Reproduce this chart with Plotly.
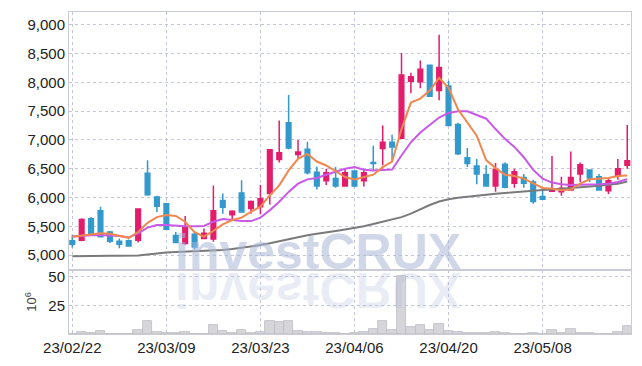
import plotly.graph_objects as go

dates = ["23/02/22","23/02/23","23/02/24","23/02/27","23/02/28",
         "23/03/02","23/03/03","23/03/06","23/03/07","23/03/08","23/03/09","23/03/10",
         "23/03/13","23/03/14","23/03/15","23/03/16","23/03/17","23/03/20","23/03/21",
         "23/03/22","23/03/23","23/03/24","23/03/27","23/03/28","23/03/29","23/03/30",
         "23/03/31","23/04/03","23/04/04","23/04/05","23/04/06","23/04/07","23/04/10",
         "23/04/11","23/04/12","23/04/13","23/04/14","23/04/17","23/04/18","23/04/19",
         "23/04/20","23/04/21","23/04/24","23/04/25","23/04/26","23/04/27","23/04/28",
         "23/05/02","23/05/03","23/05/04","23/05/08","23/05/09","23/05/10","23/05/11",
         "23/05/12","23/05/15","23/05/16","23/05/17","23/05/18","23/05/19"]

open_ = [5250,5260,5630,5770,5400,5240,5250,5260,6420,6010,5890,5340,5200,5360,5290,
         5280,5950,5700,6080,5810,5840,6070,6660,7300,6750,6840,6440,6290,6330,6200,
         6460,6290,6610,6850,6960,7030,8020,8010,8300,7860,7940,7270,6690,6550,6400,
         6200,6580,6250,6350,6270,6020,6110,6100,6130,6410,6480,6360,6120,6380,6560]
high = [5350,5640,5660,5840,5420,5290,5270,5810,6650,6030,5910,5400,5680,5410,5460,
        6210,6070,5780,6300,5950,6220,6840,7340,7780,7000,6970,6540,6500,6530,6490,
        6470,6500,6900,7250,7090,8510,8170,8380,8310,8830,8030,7300,6860,6670,6560,
        6600,6610,6500,6410,6310,6180,6720,6360,6800,6610,6490,6410,6330,6670,7260]
low = [5130,5240,5370,5310,5210,5120,5150,5220,6030,5750,5440,5210,5180,5100,5280,
       5230,5720,5610,5740,5720,5710,5880,6610,6840,6680,6400,6140,6220,6170,6190,
       6180,6190,6470,6560,6640,7020,7810,7900,7750,7690,7240,6740,6530,6230,6190,
       6100,6160,6170,6170,5890,5960,6100,6030,6120,6270,6270,6120,6060,6310,6500]
close = [5190,5620,5380,5320,5240,5190,5160,5800,6050,5850,5450,5220,5490,5140,5380,
         5770,5830,5760,5750,5930,5980,6830,6780,6860,6790,6430,6200,6430,6200,6430,
         6200,6430,6590,6960,6880,8130,8100,8230,7760,8260,7250,6760,6590,6410,6200,
         6490,6180,6450,6250,5930,5970,6150,6160,6350,6570,6340,6130,6290,6500,6640]

ma_short = [5320,5340,5360,5380,5370,5340,5300,5400,5560,5660,5695,5680,5580,5400,5320,
            5420,5534,5609,5650,5753,5840,6040,6212,6471,6672,6759,6626,6557,6454,6356,
            6316,6356,6397,6529,6626,7190,7650,7720,7860,8080,7908,7534,7305,7075,6650,
            6511,6397,6374,6328,6241,6167,6155,6126,6140,6241,6316,6328,6340,6374,6385]
ma_mid = [5322,5340,5345,5350,5345,5330,5305,5379,5477,5523,5523,5506,5500,5500,5506,
          5580,5626,5609,5591,5591,5650,5781,5926,6098,6241,6316,6339,6397,6454,6500,
          6529,6483,6471,6483,6488,6730,6960,7130,7260,7390,7470,7500,7500,7440,7370,
          7190,7020,6880,6700,6480,6330,6260,6230,6220,6220,6220,6230,6240,6270,6320]
ma_long = [4980,4985,4988,4990,4990,4990,4992,4995,5010,5030,5045,5055,5060,5065,5068,
           5075,5090,5105,5125,5150,5175,5205,5240,5280,5320,5345,5370,5390,5420,5445,
           5470,5500,5540,5580,5620,5660,5720,5800,5870,5930,5970,5995,6015,6035,6050,
           6065,6080,6095,6110,6120,6130,6138,6148,6160,6175,6190,6205,6220,6240,6280]

volume = [0.3,1.5,0.6,2.6,0.3,0.2,0.2,3.4,11.2,1.5,0.6,0.6,1.5,0.3,0.3,
          7.5,2.6,0.6,3.2,0.6,1.5,11.8,10.1,11.8,2.6,1.5,1.5,0.8,0.6,0.3,
          0.6,1.5,4.6,11.2,3.4,51.1,6.0,7.8,3.7,8.6,2.8,1.5,0.6,0.6,0.6,
          1.5,0.6,0.3,0.3,0.6,0.2,3.4,0.6,4.3,0.6,0.6,0.2,0.2,1.5,7.3]

tick_dates = ["23/02/22","23/03/09","23/03/23","23/04/06","23/04/20","23/05/08"]
price_ticks = [5000,5500,6000,6500,7000,7500,8000,8500,9000]
price_tick_text = ["5,000","5,500","6,000","6,500","7,000","7,500","8,000","8,500","9,000"]
vol_ticks = [25, 50]
watermark = "investCRUX"

RED = "#E31C6B"
BLUE = "#3399CC"
GRID = "#C3C7D9"
AXLINE = "#C9CBD6"
FONT = "Liberation Sans Narrow, Arial Narrow, Liberation Sans, Arial"

fig = go.Figure()

fig.add_trace(go.Bar(x=dates, y=volume, xaxis="x2", yaxis="y2",
                     marker=dict(color="#D6D6DA", line=dict(color="#BDBDC3", width=0.8)),
                     width=1.0, showlegend=False, hoverinfo="skip"))

fig.add_trace(go.Scatter(x=dates, y=ma_long, mode="lines",
                         line=dict(color="#7A7A7A", width=2), showlegend=False))
fig.add_trace(go.Scatter(x=dates, y=ma_mid, mode="lines",
                         line=dict(color="#C858E8", width=2), showlegend=False))
fig.add_trace(go.Scatter(x=dates, y=ma_short, mode="lines",
                         line=dict(color="#F0874F", width=2), showlegend=False))

fig.add_trace(go.Candlestick(x=dates, open=open_, high=high, low=low, close=close,
                             increasing=dict(line=dict(color=RED, width=1.5), fillcolor=RED),
                             decreasing=dict(line=dict(color=BLUE, width=1.5), fillcolor=BLUE),
                             whiskerwidth=0, showlegend=False))

H = 327.0
split = (337 - 272) / H

fig.update_layout(
    width=642, height=366,
    margin=dict(l=69, r=10, t=10, b=29),
    paper_bgcolor="white", plot_bgcolor="white",
    showlegend=False, boxgap=0.3, bargap=0,
    font=dict(family=FONT, color="#222222"),
    xaxis=dict(type="category", range=[-0.35, 59.4], domain=[0, 1], anchor="y",
               rangeslider=dict(visible=False), showticklabels=False,
               tickmode="array", tickvals=tick_dates, ticks="",
               showgrid=True, gridcolor=GRID, griddash="dot", gridwidth=1,
               showline=True, linecolor=AXLINE, mirror=True, zeroline=False),
    yaxis=dict(domain=[split, 1], range=[4741, 9224], anchor="x",
               tickmode="array", tickvals=price_ticks, ticktext=price_tick_text,
               tickfont=dict(size=15, color="#222222", family=FONT), ticks="",
               showgrid=True, gridcolor=GRID, griddash="dot", gridwidth=1,
               showline=True, linecolor=AXLINE, mirror=True, zeroline=False),
    xaxis2=dict(type="category", range=[-0.35, 59.4], domain=[0, 1], anchor="y2",
                matches="x", tickmode="array", tickvals=tick_dates, ticktext=tick_dates,
                tickfont=dict(size=15, color="#222222", family=FONT), ticks="",
                showgrid=True, gridcolor=GRID, griddash="dot", gridwidth=1,
                showline=True, linecolor=AXLINE, mirror=True, zeroline=False),
    yaxis2=dict(domain=[0, split], range=[0, 56], anchor="x2",
                tickmode="array", tickvals=vol_ticks, ticktext=["25", "50"],
                tickfont=dict(size=15, color="#222222", family=FONT), ticks="",
                title=dict(text="10<sup>6</sup>", font=dict(size=13, color="#444444", family=FONT), standoff=8),
                showgrid=True, gridcolor=GRID, griddash="dot", gridwidth=1,
                showline=True, linecolor=AXLINE, mirror=True, zeroline=False),
)

wm_x = (318.5 - 69) / 563.0
fig.add_annotation(text=watermark, xref="paper", yref="paper",
                   x=wm_x, y=(337 - 254) / H, xanchor="center", yanchor="middle",
                   showarrow=False,
                   font=dict(size=50, color="rgba(170,182,214,0.55)", family="Liberation Sans, Arial",
                             weight="bold"))
fig.add_annotation(text=watermark, xref="paper", yref="paper",
                   x=wm_x, y=(337 - 292) / H, xanchor="center", yanchor="middle",
                   showarrow=False, name="reflection",
                   font=dict(size=50, color="rgba(170,182,214,0.25)", family="Liberation Sans, Arial",
                             weight="bold"))

flip_js = """
var gd = document.getElementById('{plot_id}');
function flipReflection(){
  var anns = gd.querySelectorAll('.annotation');
  if (anns.length > 1) {
    var t = anns[1].querySelector('.annotation-text-g');
    if (t) {
      t.style.transformBox = 'fill-box';
      t.style.transformOrigin = 'center';
      t.style.transform = 'scaleY(-1)';
    }
  }
}
flipReflection();
gd.on && gd.on('plotly_afterplot', flipReflection);
"""

fig.write_html("out.html", post_script=flip_js)
